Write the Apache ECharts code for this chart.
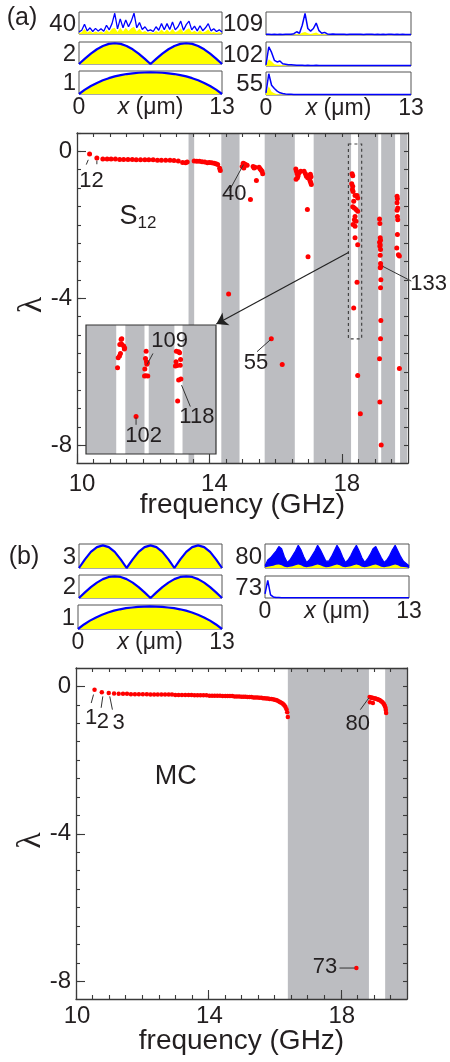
<!DOCTYPE html>
<html><head><meta charset="utf-8">
<script src="https://cdn.jsdelivr.net/npm/echarts@6/dist/echarts.min.js"></script>
<style>html,body{margin:0;padding:0;background:#fff}#c{width:450px;height:1062px}</style>
</head><body><div id="c"></div>
<script>
// ---------------- DATA ----------------
const freqTicks = [10, 14, 18];
const freqMinor = [10.5, 11, 11.5, 12, 12.5, 13, 13.5, 14, 14.5, 15, 15.5, 16, 16.5, 17, 17.5, 18, 18.5, 19, 19.5];
const lamTicks = [0, -4, -8];
const lamMinor = [0.5, 0, -0.5, -1, -1.5, -2, -2.5, -3, -3.5, -4, -4.5, -5, -5.5, -6, -6.5, -7, -7.5, -8];
const profTicks = [0, 13];

// (a) stop bands (grey)
const bandsALo = [13.37, 14.36, 15.67, 17.15, 18.49, 19.19, 19.76];
const bandsAHi = [13.54, 14.91, 16.58, 18.28, 19.10, 19.61, 19.97];
// (b) stop bands
const bandsBLo = [16.40, 19.34];
const bandsBHi = [18.85, 20.0];
// inset pass bands (white)
const insetWhiteLo = [18.293, 18.380, 18.472];
const insetWhiteHi = [18.321, 18.393, 18.497];

// (a) S12 eigenvalues
const aRowF = [10.38,10.60,10.78,10.91,11.03,11.16,11.29,11.41,11.54,11.67,11.79,11.92,12.05,12.17,12.30,12.43,12.55,12.68,12.81,12.93,13.06,13.19,13.28,13.33];
const aRowL = [-0.07,-0.18,-0.21,-0.21,-0.21,-0.21,-0.22,-0.22,-0.22,-0.22,-0.23,-0.23,-0.23,-0.23,-0.23,-0.24,-0.24,-0.24,-0.24,-0.25,-0.26,-0.30,-0.31,-0.29];
const aSeg2F = [13.54,13.62,13.70,13.78,13.86,13.94,14.00,14.07,14.14,14.20,14.25,14.31,14.33,14.58];
const aSeg2L = [-0.26,-0.27,-0.27,-0.28,-0.29,-0.31,-0.30,-0.31,-0.32,-0.34,-0.36,-0.46,-0.52,-3.88];
const aSeg3F = [14.99,15.02,15.05,15.08,15.11,15.14,15.04,15.24,15.32,15.35,15.38,15.42,15.50,15.53,15.56,15.59,15.61,15.87,16.20];
const aSeg3L = [-0.41,-0.32,-0.34,-0.36,-0.37,-0.38,-0.45,-1.31,-0.41,-0.45,-0.43,-0.79,-0.43,-0.47,-0.51,-0.54,-0.61,-5.10,-5.80];
const aSeg4F = [16.61,16.63,16.65,16.68,16.66,16.62,16.71,16.76,16.86,16.90,16.93,16.97,17.00,17.02,17.04,17.06,17.08,17.05,17.07,16.96,16.98];
const aSeg4L = [-0.48,-0.54,-0.61,-0.66,-0.72,-0.76,-0.58,-0.54,-0.54,-0.61,-0.68,-0.72,-0.66,-0.74,-0.80,-0.85,-0.90,-0.62,-0.69,-1.58,-2.87];
const aSeg5F = [18.31,18.33,18.30,18.33,18.32,18.34,18.40,18.46,18.48,18.36,18.33,18.38,18.43,18.48,18.40,18.38,18.43,18.34,18.40,18.40,18.48,18.46,18.36,18.48,18.56];
const aSeg5L = [-0.61,-0.66,-0.88,-0.95,-1.04,-1.09,-1.20,-1.20,-1.27,-1.36,-1.51,-1.54,-1.58,-1.63,-1.77,-1.86,-1.90,-1.99,-2.04,-2.35,-2.54,-3.56,-4.26,-6.10,-7.14];
const aSeg6F = [19.14,19.15,19.16,19.17,19.14,19.16,19.15,19.17,19.16,19.17,19.18,19.16,19.18,19.17,19.18,19.17,19.14,19.15,19.19];
const aSeg6L = [-1.84,-1.96,-2.35,-2.42,-2.47,-2.54,-2.58,-2.67,-2.83,-3.05,-3.13,-3.17,-3.49,-3.71,-4.60,-5.10,-5.64,-6.82,-7.99];
const aSeg7F = [19.67,19.68,19.67,19.69,19.67,19.68,19.69,19.68,19.66,19.71,19.74,19.74];
const aSeg7L = [-1.22,-1.29,-1.40,-1.54,-1.60,-1.77,-1.86,-2.26,-2.63,-2.81,-2.85,-5.91];

// inset (zoom of dashed box)
const inF = [18.310,18.308,18.304,18.310,18.316,18.319,18.318,18.306,18.303,18.299,18.297,
             18.385,18.383,18.386,18.389,18.387,18.381,18.384,18.390,18.380,
             18.478,18.485,18.488,18.491,18.477,18.475,18.480,18.490,18.485,18.492,18.482,
             18.354];
const inL = [-0.36,-0.40,-0.60,-0.59,-0.66,-0.74,-0.79,-0.97,-1.07,-1.15,-1.56,
             -0.88,-1.18,-1.31,-1.35,-1.41,-1.61,-1.88,-1.90,-1.90,
             -0.88,-0.90,-0.94,-1.22,-1.31,-1.48,-1.46,-1.45,-2.06,-2.02,-2.92,
             -3.56];

// (b) MC eigenvalues
const b1F = [10.56,10.78,10.99,11.15,11.29,11.42,11.54,11.66,11.78,11.90,12.02,12.14,12.25,12.36,12.47,12.58,12.69,12.80,12.90,13.00,
             13.10,13.20,13.30,13.40,13.49,13.58,13.67,13.76,13.85,13.94,14.03,14.11,14.19,14.27,14.35,14.43,14.51,14.58,14.65,14.72,
             14.79,14.86,14.93,15.00,15.06,15.12,15.18,15.24,15.30,15.36,15.42,15.48,15.54,15.60,15.65,15.70,15.75,15.80,15.85,15.90,
             15.95,16.00,16.04,16.08,16.12,16.16,16.20,16.24,16.27,16.30,16.33,16.36,16.38,16.40];
const b1L = [-0.09,-0.16,-0.18,-0.19,-0.20,-0.20,-0.20,-0.21,-0.21,-0.21,-0.21,-0.21,-0.22,-0.22,-0.22,-0.22,-0.22,-0.22,-0.22,-0.23,
             -0.23,-0.23,-0.23,-0.23,-0.23,-0.24,-0.24,-0.24,-0.24,-0.24,-0.25,-0.25,-0.25,-0.25,-0.25,-0.26,-0.26,-0.26,-0.26,-0.26,
             -0.27,-0.27,-0.27,-0.28,-0.28,-0.28,-0.29,-0.29,-0.29,-0.30,-0.30,-0.30,-0.31,-0.31,-0.32,-0.32,-0.33,-0.33,-0.34,-0.34,
             -0.35,-0.36,-0.37,-0.38,-0.40,-0.42,-0.44,-0.46,-0.49,-0.52,-0.56,-0.62,-0.70,-0.83];
const b73F = [18.47];
const b73L = [-7.64];
const b2F = [18.87,18.90,18.93,18.96,18.99,19.02,19.05,19.08,19.11,19.14,19.17,19.20,19.23,19.26,19.29,19.31,19.33,19.35,19.36,19.37,18.88,18.97];
const b2L = [-0.29,-0.30,-0.31,-0.31,-0.32,-0.33,-0.33,-0.34,-0.35,-0.36,-0.37,-0.39,-0.41,-0.43,-0.46,-0.49,-0.53,-0.58,-0.64,-0.72,-0.43,-0.45];

// mode profiles (x in um)
const xs25 = [0,0.54,1.08,1.63,2.17,2.71,3.25,3.79,4.33,4.88,5.42,5.96,6.5,7.04,7.58,8.13,8.67,9.21,9.75,10.29,10.83,11.38,11.92,12.46,13];
const mode1 = [0,0.2,0.37,0.51,0.63,0.73,0.81,0.87,0.92,0.95,0.98,0.99,1.0,0.99,0.98,0.95,0.92,0.87,0.81,0.73,0.63,0.51,0.37,0.2,0];
const mode2 = [0,0.26,0.5,0.71,0.87,0.97,1.0,0.97,0.87,0.71,0.5,0.26,0,0.26,0.5,0.71,0.87,0.97,1.0,0.97,0.87,0.71,0.5,0.26,0];
const mode3 = [0,0.38,0.71,0.92,1.0,0.92,0.71,0.38,0,0.38,0.71,0.92,1.0,0.92,0.71,0.38,0,0.38,0.71,0.92,1.0,0.92,0.71,0.38,0];
const xs53 = [0,0.25,0.5,0.75,1,1.25,1.5,1.75,2,2.25,2.5,2.75,3,3.25,3.5,3.75,4,4.25,4.5,4.75,5,5.25,5.5,5.75,6,6.25,6.5,6.75,7,7.25,7.5,7.75,8,8.25,8.5,8.75,9,9.25,9.5,9.75,10,10.25,10.5,10.75,11,11.25,11.5,11.75,12,12.25,12.5,12.75,13];
const blue40 = [0.10,0.18,0.47,0.15,0.30,0.12,0.27,0.14,0.25,0.13,0.42,0.20,0.50,1.00,0.25,0.73,0.30,0.68,0.35,0.62,1.00,0.30,0.55,0.22,0.35,0.15,0.20,0.12,0.35,0.18,0.50,0.20,0.50,0.22,0.58,0.20,0.35,0.62,0.18,0.45,0.62,0.20,0.38,0.15,0.40,0.16,0.30,0.50,0.15,0.25,0.12,0.20,0.10];
const yel40 = [0.05,0.08,0.25,0.07,0.15,0.05,0.12,0.06,0.12,0.05,0.20,0.08,0.25,0.30,0.10,0.30,0.12,0.30,0.15,0.28,0.35,0.12,0.25,0.08,0.15,0.06,0.08,0.05,0.15,0.07,0.22,0.08,0.22,0.09,0.25,0.08,0.15,0.28,0.07,0.20,0.28,0.08,0.16,0.06,0.18,0.06,0.12,0.22,0.06,0.10,0.05,0.08,0.04];
const blue109 = [0.03,0.03,0.02,0.03,0.02,0.03,0.02,0.03,0.04,0.03,0.06,0.15,0.08,0.45,1.00,0.30,0.18,0.30,0.55,0.20,0.08,0.12,0.05,0.04,0.05,0.03,0.04,0.03,0.03,0.02,0.03,0.03,0.04,0.03,0.03,0.02,0.03,0.04,0.03,0.02,0.03,0.02,0.03,0.02,0.04,0.03,0.02,0.03,0.02,0.03,0.02,0.02,0.02];
const yel109 = [0.01,0.01,0.01,0.01,0.01,0.01,0.01,0.01,0.01,0.01,0.02,0.04,0.03,0.10,0.14,0.08,0.05,0.08,0.12,0.05,0.03,0.04,0.02,0.01,0.01,0.01,0.01,0.01,0.01,0.01,0.01,0.01,0.01,0.01,0.01,0.01,0.01,0.01,0.01,0.01,0.01,0.01,0.01,0.01,0.01,0.01,0.01,0.01,0.01,0.01,0.01,0.01,0.01];
const blue102 = [0.05,0.85,0.60,0.25,0.18,0.22,0.10,0.08,0.06,0.05,0.04,0.03,0.03,0.03,0.02,0.03,0.02,0.02,0.03,0.02,0.02,0.02,0.02,0.02,0.02,0.02,0.02,0.02,0.02,0.02,0.02,0.02,0.02,0.02,0.02,0.02,0.02,0.02,0.02,0.02,0.02,0.02,0.02,0.02,0.02,0.02,0.02,0.02,0.02,0.02,0.02,0.02,0.02];
const yel102 = [0.02,0.30,0.20,0.08,0.05,0.06,0.03,0.02,0.01,0.01,0.01,0.01,0.01,0.01,0.01,0.01,0.01,0.01,0.01,0.01,0.01,0.01,0.01,0.01,0.01,0.01,0.01,0.01,0.01,0.01,0.01,0.01,0.01,0.01,0.01,0.01,0.01,0.01,0.01,0.01,0.01,0.01,0.01,0.01,0.01,0.01,0.01,0.01,0.01,0.01,0.01,0.01,0.01];
const blue55 = [0.10,0.98,0.45,0.30,0.18,0.10,0.07,0.05,0.04,0.03,0.02,0.02,0.02,0.02,0.02,0.02,0.02,0.02,0.02,0.02,0.02,0.02,0.02,0.02,0.02,0.02,0.02,0.02,0.02,0.02,0.02,0.02,0.02,0.02,0.02,0.02,0.02,0.02,0.02,0.02,0.02,0.02,0.02,0.02,0.02,0.02,0.02,0.02,0.02,0.02,0.02,0.02,0.02];
const yel55 = [0.03,0.40,0.15,0.08,0.04,0.02,0.01,0.01,0.01,0.01,0.01,0.01,0.01,0.01,0.01,0.01,0.01,0.01,0.01,0.01,0.01,0.01,0.01,0.01,0.01,0.01,0.01,0.01,0.01,0.01,0.01,0.01,0.01,0.01,0.01,0.01,0.01,0.01,0.01,0.01,0.01,0.01,0.01,0.01,0.01,0.01,0.01,0.01,0.01,0.01,0.01,0.01,0.01];
const blue80 = [0.10,0.35,0.45,0.60,0.75,0.95,0.85,0.50,0.25,0.35,0.55,0.75,1.00,0.80,0.50,0.25,0.35,0.55,0.75,1.00,0.80,0.55,0.30,0.30,0.50,0.75,1.00,0.80,0.50,0.25,0.35,0.55,0.80,1.00,0.75,0.45,0.25,0.40,0.60,0.85,0.95,0.70,0.45,0.25,0.35,0.55,0.80,1.00,0.75,0.50,0.30,0.20,0.10];
const yel80 = [0.02,0.05,0.08,0.10,0.14,0.16,0.12,0.06,0.03,0.05,0.08,0.12,0.16,0.12,0.06,0.03,0.05,0.08,0.12,0.16,0.12,0.07,0.03,0.04,0.08,0.12,0.16,0.12,0.06,0.03,0.05,0.08,0.12,0.16,0.12,0.06,0.03,0.05,0.09,0.13,0.16,0.11,0.06,0.03,0.05,0.08,0.12,0.16,0.12,0.06,0.04,0.03,0.02];
const blue73 = [0.20,0.85,0.15,0.05,0.02,0.02,0.01,0.01,0.01,0.01,0.01,0.01,0.01,0.01,0.01,0.01,0.01,0.01,0.01,0.01,0.01,0.01,0.01,0.01,0.01,0.01,0.01,0.01,0.01,0.01,0.01,0.01,0.01,0.01,0.01,0.01,0.01,0.01,0.01,0.01,0.01,0.01,0.01,0.01,0.01,0.01,0.01,0.01,0.01,0.01,0.01,0.01,0.01];

// ---------------- STYLE / BUILD ----------------
const FONT = '"Liberation Sans", Arial, Helvetica, sans-serif';
const TXT = '#231f20', AX = '#3a3a3a', GRAY = '#bcbdc1', RED = '#ff0000', BLUE = '#0000ff', YEL = '#ffff00';
const zip = (xs, ys) => xs.map((x, i) => [x, ys[i]]);

const grids = [], xAxes = [], yAxes = [], series = [], graphics = [];
const annTexts = [], annLines = [];
const addGrid = g => (grids.push(Object.assign({outerBoundsMode: 'none', containLabel: false}, g)), grids.length - 1);
const addX = a => (xAxes.push(a), xAxes.length - 1);
const addY = a => (yAxes.push(a), yAxes.length - 1);

function mainPlot(box, xMargin, padLeft) {
  const gi = addGrid({left: box[0], top: box[1], width: box[2], height: box[3], show: false});
  const line = {show: true, onZero: false, lineStyle: {color: AX, width: 1.3}};
  const noLine = {show: false, onZero: false};
  const tick = (vals, len) => ({show: true, inside: true, length: len, customValues: vals, lineStyle: {color: AX, width: 1.1}});
  const base = {type: 'value', gridIndex: gi, min: 10, max: 20, z: 10, splitLine: {show: false}, nameMoveOverlap: false};
  const xi = addX(Object.assign({}, base, {position: 'bottom', axisLine: line, axisTick: tick(freqTicks, 9),
    axisLabel: {show: true, customValues: freqTicks, margin: xMargin, fontSize: 24, color: TXT, fontFamily: FONT,
      padding: [0, 0, 0, padLeft]},
    name: 'frequency (GHz)', nameLocation: 'middle', nameGap: 28,
    nameTextStyle: {fontSize: 28, color: TXT, fontFamily: FONT}}));
  addX(Object.assign({}, base, {position: 'bottom', axisLine: noLine, axisTick: tick(freqMinor, 4), axisLabel: {show: false}}));
  addX(Object.assign({}, base, {position: 'top', axisLine: line, axisTick: tick(freqMinor, 4), axisLabel: {show: false}}));
  const ybase = {type: 'value', gridIndex: gi, min: -8.48, max: 0.5, z: 10, splitLine: {show: false}, nameMoveOverlap: false};
  const yi = addY(Object.assign({}, ybase, {position: 'left', axisLine: line, axisTick: tick(lamTicks, 9),
    axisLabel: {show: true, customValues: lamTicks, margin: 5, fontSize: 24, color: TXT, fontFamily: FONT},
    name: 'λ', nameLocation: 'middle', nameGap: 28,
    nameTextStyle: {fontSize: 34, color: TXT, fontFamily: '"Liberation Serif", serif', padding: [0, 14, 0, 0]}}));
  addY(Object.assign({}, ybase, {position: 'left', axisLine: noLine, axisTick: tick(lamMinor, 4), axisLabel: {show: false}}));
  addY(Object.assign({}, ybase, {position: 'right', axisLine: line, axisTick: tick(lamMinor, 4), axisLabel: {show: false}}));
  return {gi, xi, yi};
}

function bandSeries(xi, yi, lo, hi, color, z) {
  series.push({type: 'line', xAxisIndex: xi, yAxisIndex: yi, data: [], silent: true,
    markArea: {z: z, silent: true, label: {show: false}, itemStyle: {color: color, opacity: 1, borderWidth: 0},
      emphasis: {disabled: true}, data: lo.map((a, i) => [{xAxis: a}, {xAxis: hi[i]}])}});
}
function pointSeries(xi, yi, data, size, z) {
  series.push({type: 'scatter', xAxisIndex: xi, yAxisIndex: yi, data: data, symbolSize: size, z: z, silent: true,
    itemStyle: {color: RED, opacity: 1}});
}
// annotation texts / leader lines in data coordinates (converted by the chart's own axes)
function texts(xi, yi, items, z) { items.forEach(it => annTexts.push({xi, yi, x: it[0], y: it[1], t: it[2], st: it[3] || {}, z})); }
function leaders(xi, yi, segs, z) { segs.forEach(s => annLines.push({xi, yi, s, z})); }

// ---------- panel (a) main ----------
const A = mainPlot([77, 133, 331, 330], 9, 10);
bandSeries(A.xi, A.yi, bandsALo, bandsAHi, GRAY, 1);
pointSeries(A.xi, A.yi, [].concat(zip(aRowF, aRowL), zip(aSeg2F, aSeg2L), zip(aSeg3F, aSeg3L), zip(aSeg4F, aSeg4L),
  zip(aSeg5F, aSeg5L), zip(aSeg6F, aSeg6L), zip(aSeg7F, aSeg7L)), 5, 3);
series.push({type: 'line', xAxisIndex: A.xi, yAxisIndex: A.yi, data: [], clip: false, silent: true,
  markArea: {z: 4, silent: true, label: {show: false}, emphasis: {disabled: true},
    itemStyle: {color: 'rgba(0,0,0,0)', borderColor: '#444', borderWidth: 1.2, borderType: [3, 3]},
    data: [[{coord: [18.2, 0.2]}, {coord: [18.6, -5.1]}]]},
  markLine: {z: 5, silent: true, symbol: ['none', 'arrow'], symbolSize: 11, label: {show: false}, emphasis: {disabled: true},
    lineStyle: {color: '#222', width: 1.2, type: 'solid'},
    data: [[{coord: [18.2, -2.75]}, {coord: [14.21, -4.70]}]]}});
texts(A.xi, A.yi, [
  [10.44, -0.80, '12'], [14.75, -1.15, '40'], [15.41, -5.76, '55'], [20.62, -3.62, '133'],
  [11.84, -1.78, '{s|S}{sub|12}', {rich: {s: {fontSize: 27, fontFamily: FONT, fill: TXT},
    sub: {fontSize: 17, fontFamily: FONT, fill: TXT, padding: [14, 0, 0, 0]}}}]
], 20);
leaders(A.xi, A.yi, [[10.28, -0.36, 10.34, -0.23], [10.60, -0.25, 10.60, -0.35], [14.60, -1.07, 15.03, -0.36],
  [15.44, -5.45, 15.85, -5.12], [19.24, -3.13, 20.10, -3.53]], 20);

// ---------- inset ----------
const gIn = addGrid({left: 86, top: 325, width: 130, height: 129, show: false});
const xIn = addX({type: 'value', gridIndex: gIn, min: 18.2, max: 18.6, show: false});
const yIn = addY({type: 'value', gridIndex: gIn, min: -5.1, max: 0.2, show: false});
series.push({type: 'line', xAxisIndex: xIn, yAxisIndex: yIn, data: [], silent: true,
  markArea: {z: 6, silent: true, label: {show: false}, emphasis: {disabled: true}, itemStyle: {color: GRAY, opacity: 1},
    data: [[{coord: [18.2, 0.2]}, {coord: [18.6, -5.1]}]]}});
bandSeries(xIn, yIn, insetWhiteLo, insetWhiteHi, '#ffffff', 7);
pointSeries(xIn, yIn, zip(inF, inL), 5, 8);
series.push({type: 'line', xAxisIndex: xIn, yAxisIndex: yIn, data: [], silent: true,
  markArea: {z: 9, silent: true, label: {show: false}, emphasis: {disabled: true},
    itemStyle: {color: 'rgba(0,0,0,0)', borderColor: '#333', borderWidth: 1.2},
    data: [[{coord: [18.2, 0.2]}, {coord: [18.6, -5.1]}]]}});
texts(xIn, yIn, [[18.457, -0.45, '109'], [18.541, -3.57, '118'], [18.377, -4.35, '102']], 20);
leaders(xIn, yIn, [[18.388, -1.42, 18.406, -0.97], [18.494, -2.27, 18.521, -3.15], [18.354, -3.59, 18.354, -3.90]], 20);

// ---------- panel (b) main ----------
const B = mainPlot([76, 668, 331, 331], 5, 2);
bandSeries(B.xi, B.yi, bandsBLo, bandsBHi, GRAY, 1);
pointSeries(B.xi, B.yi, [].concat(zip(b1F, b1L), zip(b73F, b73L), zip(b2F, b2L)), 4.5, 3);
texts(B.xi, B.yi, [
  [10.46, -0.86, '1'], [10.81, -0.95, '2'], [11.29, -0.99, '3'], [18.51, -1.01, '80'], [17.52, -7.61, '73'],
  [13.01, -2.45, 'MC', {fontSize: 27}]
], 20);
leaders(B.xi, B.yi, [[10.46, -0.45, 10.53, -0.22], [10.76, -0.58, 10.81, -0.27], [11.02, -0.27, 11.10, -0.63],
  [18.59, -0.63, 18.85, -0.31], [17.96, -7.64, 18.42, -7.64]], 20);

// ---------- small profile panels ----------
function panel(box, label, showX, layers) {
  const gi = addGrid({left: box[0], top: box[1], width: box[2], height: box[3], show: true,
    borderColor: '#555', borderWidth: 1, backgroundColor: '#fff'});
  const xi = addX({type: 'value', gridIndex: gi, min: 0, max: 13, nameMoveOverlap: false,
    axisLine: {show: false, onZero: false}, axisTick: {show: false}, splitLine: {show: false},
    axisLabel: showX ? {show: true, customValues: profTicks, margin: 2, fontSize: 23, color: TXT, fontFamily: FONT} : {show: false},
    name: showX ? '{i|x} (μm)' : '', nameLocation: 'middle', nameGap: 2,
    nameTextStyle: {fontSize: 23, color: TXT, fontFamily: FONT,
      rich: {i: {fontSize: 23, fontStyle: 'italic', color: TXT, fontFamily: FONT}}}});
  const yi = addY({type: 'value', gridIndex: gi, min: 0, max: 1.06, show: false});
  layers.forEach(l => {
    const s = {type: 'line', xAxisIndex: xi, yAxisIndex: yi, data: l.data, symbol: 'none', silent: true, z: l.z || 2,
      lineStyle: l.line ? {color: l.line, width: l.w || 2} : {width: 0, opacity: 0}};
    if (l.fill) s.areaStyle = {color: l.fill, opacity: 1};
    series.push(s);
  });
  graphics.push({type: 'text', x: box[0] - 3, y: box[1] + box[3] / 2 + 1, silent: true,
    style: {text: label, fill: TXT, font: '24px ' + FONT, align: 'right', verticalAlign: 'middle'}});
}
// (a)
panel([79, 12, 143, 22], '40', false, [{data: zip(xs53, yel40), fill: YEL}, {data: zip(xs53, blue40), line: BLUE, w: 1.3, z: 3}]);
panel([79, 42, 143, 22], '2', false, [{data: zip(xs25, mode2), fill: YEL, line: BLUE, w: 2.2}]);
panel([79, 71, 143, 23], '1', true, [{data: zip(xs25, mode1), fill: YEL, line: BLUE, w: 2.2}]);
panel([266, 12, 145, 23], '109', false, [{data: zip(xs53, yel109), fill: YEL}, {data: zip(xs53, blue109), line: BLUE, w: 1.5, z: 3}]);
panel([266, 42, 145, 24], '102', false, [{data: zip(xs53, yel102), fill: YEL}, {data: zip(xs53, blue102), line: BLUE, w: 1.5, z: 3}]);
panel([266, 72, 145, 23], '55', true, [{data: zip(xs53, yel55), fill: YEL}, {data: zip(xs53, blue55), line: BLUE, w: 1.5, z: 3}]);
// (b)
panel([79, 544, 143, 24], '3', false, [{data: zip(xs25, mode3), fill: YEL, line: BLUE, w: 2.2}]);
panel([79, 575, 143, 23], '2', false, [{data: zip(xs25, mode2), fill: YEL, line: BLUE, w: 2.2}]);
panel([78, 605, 144, 24], '1', true, [{data: zip(xs25, mode1), fill: YEL, line: BLUE, w: 2.2}]);
panel([265, 544, 144, 24], '80', false, [{data: zip(xs53, blue80), fill: BLUE, line: BLUE, w: 1.2}, {data: zip(xs53, yel80), fill: YEL, z: 3}]);
panel([265, 576, 144, 22], '73', true, [{data: zip(xs53, blue73), line: BLUE, w: 1.5}]);

graphics.push({type: 'text', x: 22, y: 18, silent: true, style: {text: '(a)', fill: TXT, font: '25px ' + FONT, align: 'center', verticalAlign: 'middle'}});
graphics.push({type: 'text', x: 24, y: 557, silent: true, style: {text: '(b)', fill: TXT, font: '25px ' + FONT, align: 'center', verticalAlign: 'middle'}});

const chart = echarts.init(document.getElementById('c'), null, {renderer: 'canvas', width: 450, height: 1062});
chart.setOption({
  animation: false,
  backgroundColor: '#ffffff',
  textStyle: {fontFamily: FONT},
  grid: grids, xAxis: xAxes, yAxis: yAxes, series: series
});
// place annotations through the chart's axes
annLines.forEach(a => {
  const p1 = chart.convertToPixel({xAxisIndex: a.xi, yAxisIndex: a.yi}, [a.s[0], a.s[1]]);
  const p2 = chart.convertToPixel({xAxisIndex: a.xi, yAxisIndex: a.yi}, [a.s[2], a.s[3]]);
  graphics.push({type: 'line', silent: true, z: a.z, shape: {x1: p1[0], y1: p1[1], x2: p2[0], y2: p2[1]},
    style: {stroke: '#333', lineWidth: 1}});
});
annTexts.forEach(a => {
  const p = chart.convertToPixel({xAxisIndex: a.xi, yAxisIndex: a.yi}, [a.x, a.y]);
  const st = Object.assign({text: a.t, fill: TXT, font: (a.st.fontSize || 22) + 'px ' + FONT, align: 'center', verticalAlign: 'middle'}, a.st);
  delete st.fontSize;
  graphics.push({type: 'text', silent: true, z: a.z, x: p[0], y: p[1], style: st});
});
chart.setOption({graphic: graphics});
</script></body></html>
